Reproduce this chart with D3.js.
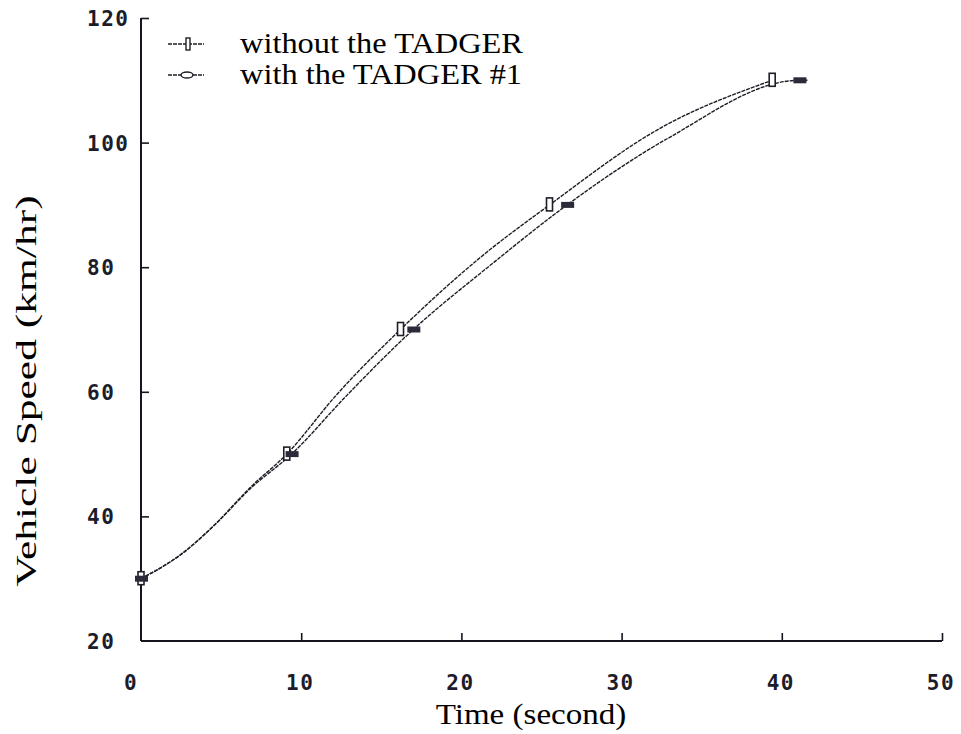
<!DOCTYPE html>
<html>
<head>
<meta charset="utf-8">
<script src="https://cdn.jsdelivr.net/npm/d3@7"></script>
<style>
  body { margin: 0; background: #fff; }
  .tick-label { font-family: "DejaVu Sans Mono", monospace; font-weight: bold; font-size: 21px; letter-spacing: 1.5px; fill: #1c1c2a; }
  .title { font-family: "Liberation Serif", "Times New Roman", serif; fill: #000; }
</style>
</head>
<body>
<div id="chart"></div>
<script>
var width = 961,
    height = 734;

var seriesNames = ["without the TADGER", "with the TADGER #1"];
var timeWithout = [0, 2.6, 4.7, 6.8, 9.1, 12.2, 16.2, 21.2, 25.5, 32.4, 39.4];
var speedWithout = [30, 34.1, 38.9, 44.6, 50, 59.5, 70, 81.6, 90, 102.3, 110];
var timeWith = [0, 2.6, 4.7, 6.8, 9.4, 12.8, 17.0, 21.8, 26.6, 32.9, 41.1, 41.6];
var speedWith = [30, 34.1, 38.9, 44.4, 50, 59.3, 70, 80.3, 90, 100.7, 110, 110];
var markerWithout = [[0, 30], [9.1, 50], [16.2, 70], [25.5, 90], [39.4, 110]];
var markerWith = [[0, 30], [9.4, 50], [17.0, 70], [26.6, 90], [41.1, 110]];
var xTicks = [0, 10, 20, 30, 40, 50];
var yTicks = [20, 40, 60, 80, 100, 120];

var svg = d3.select("#chart")
  .append("svg")
  .attr("width", width)
  .attr("height", height);

var x = d3.scaleLinear().domain([0, 50]).range([141, 942]);
var y = d3.scaleLinear().domain([20, 120]).range([641, 18]);

// axes, ticks point inward like the old plotter output
var xAxis = d3.axisBottom(x).tickValues(xTicks.slice(1)).tickSize(-8).tickFormat("");
var yAxis = d3.axisLeft(y).tickValues(yTicks.slice(1)).tickSize(-8).tickFormat("");

svg.append("g")
  .attr("transform", "translate(0," + y(20) + ")")
  .call(xAxis)
  .call(function(g) {
    g.select(".domain").attr("d", "M" + x(0) + ",0H" + x(50)).attr("stroke", "#151520").attr("stroke-width", 2);
    g.selectAll(".tick line").attr("stroke", "#151520").attr("stroke-width", 1.6);
  });

svg.append("g")
  .attr("transform", "translate(" + x(0) + ",0)")
  .call(yAxis)
  .call(function(g) {
    g.select(".domain").attr("d", "M0," + y(20) + "V" + y(120)).attr("stroke", "#151520").attr("stroke-width", 2);
    g.selectAll(".tick line").attr("stroke", "#151520").attr("stroke-width", 1.6);
  });

// tick labels
svg.selectAll(".xlab")
  .data(xTicks)
  .enter()
  .append("text")
  .attr("class", "tick-label")
  .attr("x", function(d) { return d === 0 ? x(d) - 10 : x(d) - 1; })
  .attr("y", 690)
  .attr("text-anchor", "middle")
  .text(function(d) { return d; });

svg.selectAll(".ylab")
  .data(yTicks)
  .enter()
  .append("text")
  .attr("class", "tick-label")
  .attr("x", 87)
  .attr("y", function(d) { return y(d) + 8; })
  .text(function(d) { return d; });

// curves
var line = d3.line()
  .x(function(d) { return x(d[0]); })
  .y(function(d) { return y(d[1]); })
  .curve(d3.curveMonotoneX);

var lineWithout = d3.zip(timeWithout, speedWithout);
var lineWith = d3.zip(timeWith, speedWith);

[lineWithout, lineWith].forEach(function(pts) {
  svg.append("path")
    .datum(pts)
    .attr("d", line)
    .attr("fill", "none")
    .attr("stroke", "#1e1e28")
    .attr("stroke-width", 1.4)
    .attr("stroke-dasharray", "4,1");
});

// markers
svg.selectAll(".m1")
  .data(markerWithout)
  .enter()
  .append("rect")
  .attr("x", function(d) { return x(d[0]) - 3; })
  .attr("y", function(d) { return y(d[1]) - 7; })
  .attr("width", 6)
  .attr("height", 13)
  .attr("fill", "#fff")
  .attr("stroke", "#1e1e28")
  .attr("stroke-width", 1.6);

svg.selectAll(".m2")
  .data(markerWith)
  .enter()
  .append("rect")
  .attr("x", function(d) { return x(d[0]) - 6; })
  .attr("y", function(d) { return y(d[1]) - 3; })
  .attr("width", 13)
  .attr("height", 6)
  .attr("fill", "#2a2a3a");

// legend
var legend = svg.append("g");
legend.append("rect")
  .attr("x", 228).attr("y", 0)
  .attr("width", 400).attr("height", 110)
  .attr("fill", "#fff");

seriesNames.forEach(function(name, i) {
  var ly = 44 + i * 31;
  legend.append("line")
    .attr("x1", 168).attr("x2", 204)
    .attr("y1", ly).attr("y2", ly)
    .attr("stroke", "#1e1e28").attr("stroke-width", 1.4)
    .attr("stroke-dasharray", "4,1");
  if (i === 0) {
    legend.append("rect")
      .attr("x", 186).attr("y", ly - 6)
      .attr("width", 4).attr("height", 12)
      .attr("fill", "#fff").attr("stroke", "#1e1e28").attr("stroke-width", 1.4);
  } else {
    legend.append("ellipse")
      .attr("cx", 187).attr("cy", ly)
      .attr("rx", 6).attr("ry", 3)
      .attr("fill", "#fff").attr("stroke", "#1e1e28").attr("stroke-width", 1.4);
  }
  legend.append("text")
    .attr("class", "title")
    .attr("x", 240)
    .attr("y", ly + 9)
    .attr("font-size", "30px")
    .attr("transform", "translate(240," + (ly + 9) + ") scale(1.08,1) translate(-240," + (-(ly + 9)) + ")")
    .text(name);
});

// axis titles
svg.append("text")
  .attr("class", "title")
  .attr("transform", "translate(531,724) scale(1.14,1)")
  .attr("text-anchor", "middle")
  .attr("font-size", "29px")
  .text("Time (second)");

svg.append("text")
  .attr("class", "title")
  .attr("transform", "translate(36,391) rotate(-90) scale(1.45,1)")
  .attr("text-anchor", "middle")
  .attr("font-size", "30px")
  .text("Vehicle Speed (km/hr)");
</script>
</body>
</html>
